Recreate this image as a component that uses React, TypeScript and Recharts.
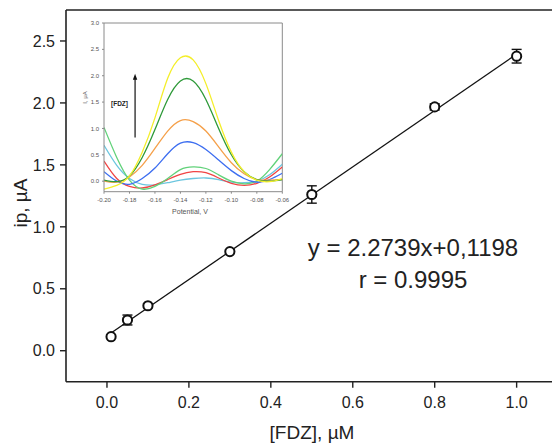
import {
  ComposedChart,
  ErrorBar,
  Label,
  Line,
  ReferenceLine,
  Scatter,
  XAxis,
  YAxis,
} from 'recharts';

// calibration points
const concentrations = [0.01, 0.05, 0.1, 0.3, 0.5, 0.8, 1.0];
const peakCurrents = [0.113, 0.248, 0.363, 0.8, 1.261, 1.968, 2.377];
const currentErrors = [0.012, 0.04, 0.015, 0.012, 0.07, 0.025, 0.055];

// fitted line y = 2.2739x + 0.1198, ends
const fitX = [0.01, 1.0];
const fitY = [0.1425, 2.3937];

const xTicks = [0, 0.2, 0.4, 0.6, 0.8, 1.0];
const yTicks = [0, 0.5, 1.0, 1.5, 2.0, 2.5];

// inset voltammograms
const potentials = [
  -0.2, -0.19, -0.18, -0.17, -0.16, -0.15, -0.14, -0.13, -0.12, -0.11, -0.1, -0.09, -0.08, -0.07, -0.06,
];
const cyanCurve = [0.68, 0.3, 0.05, -0.06, -0.07, -0.03, 0.02, 0.05, 0.06, 0.03, -0.02, -0.03, 0.0, 0.12, 0.32];
const redCurve = [0.38, 0.05, -0.1, -0.13, -0.07, 0.03, 0.13, 0.18, 0.16, 0.06, -0.04, -0.08, -0.04, 0.08, 0.27];
const lightGreenCurve = [1.02, 0.45, 0.02, -0.15, -0.1, 0.05, 0.22, 0.27, 0.24, 0.12, 0.0, -0.05, 0.0, 0.22, 0.52];
const blueCurve = [0.18, 0.0, -0.06, 0.05, 0.25, 0.52, 0.72, 0.73, 0.6, 0.4, 0.2, 0.05, -0.02, 0.03, 0.15];
const orangeCurve = [0.0, -0.02, 0.08, 0.3, 0.62, 0.95, 1.15, 1.13, 0.95, 0.65, 0.35, 0.14, 0.03, 0.02, 0.03];
const greenCurve = [0.02, -0.01, 0.1, 0.45, 0.98, 1.55, 1.9, 1.9, 1.55, 1.0, 0.5, 0.18, 0.03, 0.0, 0.03];
const yellowCurve = [-0.15, -0.08, 0.1, 0.55, 1.2, 1.95, 2.34, 2.3, 1.85, 1.15, 0.55, 0.18, 0.02, -0.01, 0.05];

const insetXTicks = [-0.2, -0.18, -0.16, -0.14, -0.12, -0.1, -0.08, -0.06];
const insetYTicks = [0, 0.5, 1.0, 1.5, 2.0, 2.5, 3.0];

const points = concentrations.map((x, i) => ({ x, y: peakCurrents[i], err: currentErrors[i] }));
const fitLine = fitX.map((x, i) => ({ x, y: fitY[i] }));

const curves = [
  { key: 'cyan', values: cyanCurve, color: '#6cc6df' },
  { key: 'red', values: redCurve, color: '#f04545' },
  { key: 'lgreen', values: lightGreenCurve, color: '#62d27a' },
  { key: 'blue', values: blueCurve, color: '#3d6ef0' },
  { key: 'orange', values: orangeCurve, color: '#f5a04a' },
  { key: 'green', values: greenCurve, color: '#2f9a3a' },
  { key: 'yellow', values: yellowCurve, color: '#f4ee2a' },
];

const insetRows = potentials.map((v, i) => {
  const row: Record<string, number> = { v };
  curves.forEach((c) => {
    row[c.key] = c.values[i];
  });
  return row;
});

const FONT = '"Liberation Sans", Arial, sans-serif';

const OpenCircle = (props: any) => {
  const { cx, cy } = props;
  return <circle cx={cx} cy={cy} r={4.6} fill="#fff" stroke="#111" strokeWidth={2} />;
};

const Arrow = (props: any) => {
  const { x1, y1, x2, y2 } = props;
  return (
    <g>
      <line x1={x1} y1={y1} x2={x2} y2={y2 + 4} stroke="#111" strokeWidth={1.2} />
      <polygon points={`${x2 - 2.2},${y2 + 5} ${x2 + 2.2},${y2 + 5} ${x2},${y2 - 1}`} fill="#111" />
    </g>
  );
};

const Inset = () => (
  <ComposedChart width={212} height={210} data={insetRows} margin={{ top: 13, right: 9.7, bottom: 0, left: 0 }}>
    <XAxis
      type="number"
      dataKey="v"
      domain={[-0.2, -0.06]}
      ticks={insetXTicks}
      tickFormatter={(t: number) => t.toFixed(2)}
      allowDataOverflow
      height={28.3}
      tick={{ fontSize: 6, fill: '#555', fontFamily: FONT }}
      tickSize={2}
      tickMargin={4}
      axisLine={{ stroke: '#8a8a8a', strokeWidth: 1 }}
      tickLine={{ stroke: '#8a8a8a' }}
    >
      <Label
        content={() => (
          <text x={110} y={204} textAnchor="middle" fontSize={7} fill="#555" fontFamily={FONT}>
            Potential, V
          </text>
        )}
      />
    </XAxis>
    <YAxis
      type="number"
      domain={[-0.2, 3.0]}
      ticks={insetYTicks}
      tickFormatter={(t: number) => t.toFixed(1)}
      allowDataOverflow
      width={24}
      tick={{ fontSize: 6, fill: '#555', fontFamily: FONT }}
      tickSize={2}
      tickMargin={3}
      axisLine={{ stroke: '#8a8a8a', strokeWidth: 1 }}
      tickLine={{ stroke: '#8a8a8a' }}
    >
      <Label
        content={() => (
          <text
            x={7}
            y={87.5}
            textAnchor="middle"
            fontSize={6}
            fill="#555"
            fontFamily={FONT}
            transform="rotate(-90 7 87.5)"
          >
            I, µA
          </text>
        )}
      />
    </YAxis>
    <ReferenceLine y={3.0} stroke="#8a8a8a" strokeWidth={1} />
    <ReferenceLine x={-0.06} stroke="#8a8a8a" strokeWidth={1} />
    {curves.map((c) => (
      <Line
        key={c.key}
        type="natural"
        dataKey={c.key}
        stroke={c.color}
        strokeWidth={1.3}
        dot={false}
        isAnimationActive={false}
      />
    ))}
    <ReferenceLine
      segment={[
        { x: -0.1756, y: 0.83 },
        { x: -0.1756, y: 2.02 },
      ]}
      shape={Arrow}
    />
  </ComposedChart>
);

export default function App() {
  return (
    <div
      style={{
        position: 'absolute',
        left: 0,
        top: 0,
        width: 552,
        height: 443,
        overflow: 'hidden',
        background: '#fff',
        fontFamily: FONT,
      }}
    >
      <ComposedChart width={600} height={443} margin={{ top: 10, right: 42.4, bottom: 0, left: 0 }}>
        <XAxis
          type="number"
          dataKey="x"
          domain={[-0.1, 1.1]}
          ticks={xTicks}
          tickFormatter={(t: number) => t.toFixed(1)}
          allowDataOverflow
          height={61.3}
          tick={{ fontSize: 16, fill: '#222', fontFamily: FONT }}
          tickSize={6}
          tickMargin={9}
          axisLine={{ stroke: '#222', strokeWidth: 1.6 }}
          tickLine={{ stroke: '#222', strokeWidth: 1.4 }}
        >
          <Label
            content={() => (
              <text x={312} y={439} textAnchor="middle" fontSize={19} fill="#222" fontFamily={FONT}>
                [FDZ], µM
              </text>
            )}
          />
        </XAxis>
        <YAxis
          type="number"
          dataKey="y"
          domain={[-0.25, 2.75]}
          ticks={yTicks}
          tickFormatter={(t: number) => t.toFixed(1)}
          allowDataOverflow
          width={66}
          tick={{ fontSize: 16, fill: '#222', fontFamily: FONT }}
          tickSize={6}
          tickMargin={5}
          axisLine={{ stroke: '#222', strokeWidth: 1.6 }}
          tickLine={{ stroke: '#222', strokeWidth: 1.4 }}
        >
          <Label
            content={() => (
              <text
                x={27}
                y={203}
                textAnchor="middle"
                fontSize={19}
                fill="#222"
                fontFamily={FONT}
                transform="rotate(-90 27 203)"
              >
                ip, µA
              </text>
            )}
          />
        </YAxis>
        <ReferenceLine y={2.75} stroke="#222" strokeWidth={1.6} />
        <ReferenceLine x={1.1} stroke="#222" strokeWidth={1.6} />
        <Line
          data={fitLine}
          dataKey="y"
          type="linear"
          stroke="#111"
          strokeWidth={1.3}
          dot={false}
          isAnimationActive={false}
        />
        <Scatter data={points} dataKey="y" shape={OpenCircle} isAnimationActive={false}>
          <ErrorBar dataKey="err" direction="y" width={5} stroke="#111" strokeWidth={1.4} isAnimationActive={false} />
        </Scatter>
      </ComposedChart>

      <div style={{ position: 'absolute', left: 80, top: 10 }}>
        <Inset />
      </div>

      <div
        style={{
          position: 'absolute',
          left: 111,
          top: 100,
          fontSize: 6.5,
          fontWeight: 'bold',
          lineHeight: '8px',
          color: '#222',
        }}
      >
        [FDZ]
      </div>

      <div
        style={{
          position: 'absolute',
          left: 303,
          width: 220,
          top: 232,
          textAlign: 'center',
          fontSize: 24,
          lineHeight: '32px',
          color: '#222',
        }}
      >
        <div>y = 2.2739x+0,1198</div>
        <div>r = 0.9995</div>
      </div>
    </div>
  );
}
